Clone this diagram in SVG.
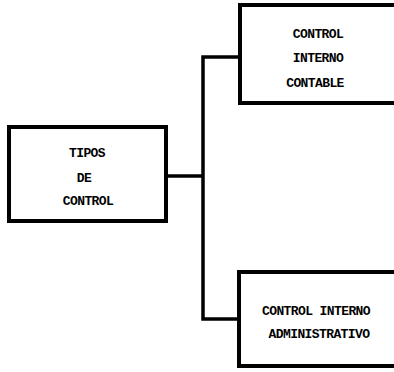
<svg xmlns="http://www.w3.org/2000/svg" width="394" height="372" viewBox="0 0 394 372">
<style>
.box{fill:#fff;stroke:#000;stroke-width:4}
.conn{fill:none;stroke:#000;stroke-width:3.5;stroke-linecap:square}
text{font-family:"Liberation Mono","DejaVu Sans Mono",monospace;font-weight:bold;font-size:13px;letter-spacing:-0.6px;fill:#000;text-anchor:middle}
</style>
<rect width="394" height="372" fill="#fff"/>
<g id="connectors">
<path class="conn" d="M166 176 H203 M203 57 V319 M203 57 H240 M203 319 H239"/>
</g>
<g id="tipos">
<rect class="box" x="9" y="127" width="157" height="94"/>
<text x="87" y="157">TIPOS</text>
<text x="84" y="182">DE</text>
<text x="88" y="205">CONTROL</text>
</g>
<g id="contable">
<rect class="box" x="240" y="5" width="170" height="98"/>
<text x="318" y="38">CONTROL</text>
<text x="318" y="62">INTERNO</text>
<text x="315" y="87">CONTABLE</text>
</g>
<g id="administrativo">
<rect class="box" x="239" y="272" width="170" height="94"/>
<text x="316" y="315">CONTROL INTERNO</text>
<text x="319" y="338">ADMINISTRATIVO</text>
</g>
</svg>
